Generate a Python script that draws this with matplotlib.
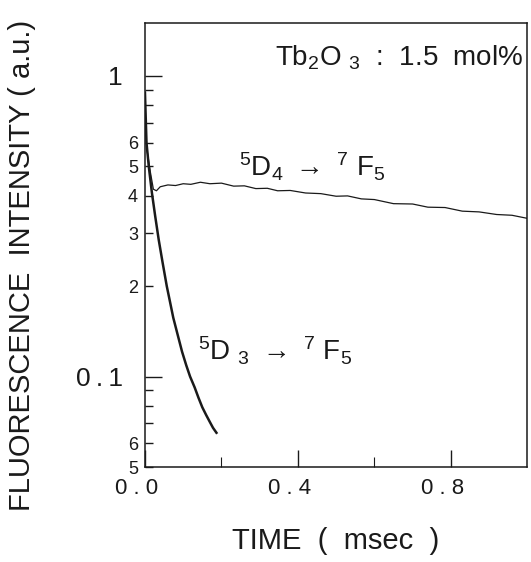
import matplotlib
matplotlib.use("Agg")
import matplotlib.pyplot as plt
import matplotlib.transforms as mtransforms
from matplotlib.ticker import FixedLocator, FixedFormatter

plt.rcParams['font.family'] = ['Liberation Sans', 'DejaVu Sans']
plt.rcParams['mathtext.default'] = 'regular'

# 5D3 -> 7F5 decay (time in msec, intensity a.u.)
d3_time = [0.0, 0.004, 0.01, 0.018, 0.027, 0.036, 0.046, 0.057, 0.066, 0.074, 0.086,
           0.097, 0.108, 0.118, 0.13, 0.14, 0.15, 0.16, 0.17, 0.178, 0.187]
d3_int = [0.88, 0.6, 0.5, 0.41, 0.34, 0.285, 0.24, 0.2, 0.176, 0.157, 0.137,
          0.121, 0.109, 0.1, 0.092, 0.085, 0.079, 0.0745, 0.0705, 0.0675, 0.065]

# 5D4 -> 7F5 decay
d4_time = [0.006, 0.014, 0.022, 0.03, 0.04, 0.06, 0.08, 0.1, 0.12, 0.145, 0.17,
           0.2, 0.232, 0.26, 0.29, 0.32, 0.347, 0.38, 0.42, 0.46, 0.5, 0.53,
           0.566, 0.6, 0.65, 0.7, 0.74, 0.785, 0.83, 0.874, 0.92, 0.96, 1.0]
d4_int = [0.56, 0.48, 0.42, 0.415, 0.428, 0.434, 0.432, 0.438, 0.436, 0.443, 0.438,
          0.44, 0.43, 0.431, 0.422, 0.423, 0.415, 0.416, 0.408, 0.406, 0.398, 0.399,
          0.39, 0.388, 0.376, 0.375, 0.366, 0.365, 0.355, 0.353, 0.346, 0.344, 0.336]

x_major = [0.0, 0.4, 0.8]
x_major_labels = ["0 . 0", "0 . 4", "0 . 8"]
x_minor = [0.2, 0.6]

y_major = [0.1, 1.0]
y_major_labels = ["0\u2009.\u20091", "1"]
y_minor = [0.05, 0.06, 0.07, 0.08, 0.09, 0.2, 0.3, 0.4, 0.5, 0.6, 0.7, 0.8, 0.9]
y_minor_labels = ["5", "6", "", "", "", "2", "3", "4", "5", "6", "", "", ""]

ink = '#1a1a1a'

fig = plt.figure(figsize=(5.31, 5.62), dpi=100)
ax = fig.add_axes([0.273, 0.169, 0.72, 0.79])

ax.plot(d3_time, d3_int, color=ink, lw=1.8)
ax.plot(d4_time, d4_int, color=ink, lw=0.9)

ax.set_yscale('log')
ax.set_xlim(0, 1.0)
ax.set_ylim(0.05, 1.5)

ax.xaxis.set_major_locator(FixedLocator(x_major))
ax.xaxis.set_major_formatter(FixedFormatter(x_major_labels))
ax.xaxis.set_minor_locator(FixedLocator(x_minor))
ax.yaxis.set_major_locator(FixedLocator(y_major))
ax.yaxis.set_major_formatter(FixedFormatter(y_major_labels))
ax.yaxis.set_minor_locator(FixedLocator(y_minor))
ax.yaxis.set_minor_formatter(FixedFormatter(y_minor_labels))

ax.tick_params(axis='x', which='major', direction='in', length=12, width=1.0,
               labelsize=16, pad=8, colors=ink)
ax.tick_params(axis='x', which='minor', direction='in', length=7, width=0.8, colors=ink)
ax.tick_params(axis='y', which='major', direction='in', length=12, width=1.0,
               labelsize=19, pad=16, colors=ink)
ax.tick_params(axis='y', which='minor', direction='in', length=6, width=1.0,
               labelsize=13, pad=5, colors=ink)

# the scanned labels sit a little left of their ticks
shift = mtransforms.ScaledTranslation(-6 / 72, 0, fig.dpi_scale_trans)
for lab in ax.get_xticklabels():
    lab.set_transform(lab.get_transform() + shift)

for s in ax.spines.values():
    s.set_linewidth(1.1)
    s.set_color(ink)

ax.set_xlabel("TIME  (  msec  )", fontsize=21, labelpad=20, color=ink)
fig.text(0.042, 0.528, "FLUORESCENCE  INTENSITY ( a.u.)", rotation=90,
         ha='center', va='center', fontsize=21, color=ink)

ax.text(0.99, 0.905, r"Tb$_2$O ${}_3$  :  1.5  mol%", transform=ax.transAxes,
        ha='right', va='baseline', fontsize=20, color=ink)
ax.text(0.437, 0.655, r"$^5$D$_4$ $\rightarrow$ $^7$ F$_5$", transform=ax.transAxes,
        ha='center', va='baseline', fontsize=20, color=ink)
ax.text(0.34, 0.241, r"$^5$D ${}_3$ $\rightarrow$ $^7$ F$_5$", transform=ax.transAxes,
        ha='center', va='baseline', fontsize=20, color=ink)

fig.savefig("out.png", dpi=100)
